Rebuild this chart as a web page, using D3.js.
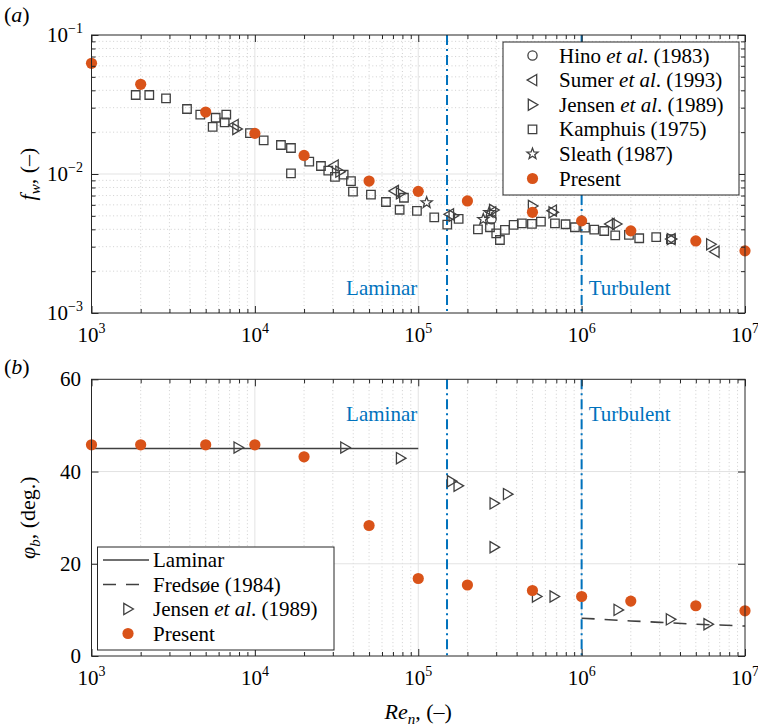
<!DOCTYPE html>
<html><head><meta charset="utf-8">
<script src="https://cdn.jsdelivr.net/npm/d3@7"></script>
<style>body{margin:0;background:#fff} text{font-family:"Liberation Serif","Times New Roman",serif;fill:#000}</style>
</head><body><svg id="c" width="758" height="727"></svg>
<script>
// ---------- data ----------
const presentRe  = [1e3,2e3,5e3,1e4,2e4,5e4,1e5,2e5,5e5,1e6,2e6,5e6,1e7];
const presentFw  = [0.0626,0.0442,0.0279,0.0196,0.0136,0.0089,0.0075,0.0064,0.0053,0.0046,0.0039,0.0033,0.0028];
const presentPhi = [45.8,45.8,45.8,45.8,43.2,28.3,16.8,15.4,14.2,12.9,11.9,10.9,9.8];

const kamphuisRe = [1865,2258,2858,3841,4633,5757,6683,5516,6535,9333,11320,14440,16630,16630,21520,25380,28130,30920,34950,38740,39850,51340,63430,76930,81750,98170,125300,150500,176700,231900,274800,300200,316200,339300,383600,431000,496400,563600,686600,798000,910000,1048000,1195000,1375000,1606000,1948000,2252000,2861000,3520000];
const kamphuisFw = [0.0370,0.0370,0.0350,0.02935,0.0267,0.0254,0.0267,0.0218,0.02355,0.0197,0.01748,0.01617,0.01538,0.01012,0.01226,0.01142,0.01056,0.00952,0.00989,0.0089,0.00746,0.0071,0.00629,0.00553,0.00675,0.00542,0.00488,0.00432,0.00475,0.0040,0.00414,0.00374,0.00335,0.00396,0.0043,0.00442,0.00437,0.00454,0.00442,0.00435,0.00414,0.00411,0.00398,0.00389,0.00362,0.00365,0.00345,0.00352,0.0034];

const sumerRe = [7450,30500,71300,155000,281000,661000,1490000,3520000,6540000];
const sumerFw = [0.0225,0.0115,0.00755,0.00513,0.0053,0.00545,0.00437,0.0034,0.00276];

const jensenRe = [7770,33200,78000,163800,290000,501000,670000,1637000,3550000,6180000];
const jensenFw = [0.0211,0.0104,0.00726,0.00501,0.00551,0.00589,0.0053,0.00437,0.0034,0.00312];

const hinoRe = [281000];
const hinoFw = [0.00472];

const sleathRe = [112600,250000,272000];
const sleathFw = [0.00622,0.00472,0.0053];

const jensenPhiRe = [7910,35600,78000,160100,175700,291900,352500,291900,530400,679800,1675000,3500000,5950000];
const jensenPhi   = [45.2,45.2,42.9,37.9,36.9,33.1,35.1,23.6,12.9,12.9,10.0,7.95,6.9];

const laminarRe  = [1e3,1e5];
const laminarPhi = [45,45];
const fredsoeRe  = [1e6,2e6,3e6,5e6,1e7];
const fredsoePhi = [8.2,7.6,7.3,6.9,6.5];

const regimeRe = [1.5e5,1e6];
const xTickExp = [3,4,5,6,7];
const fwTickExp = [-3,-2,-1];
const phiTicks = [0,20,40,60];

// ---------- setup ----------
const svg = d3.select("#c");
const L = 91.5, R = 745;
const topT = 35, topB = 313, botT = 379.3, botB = 656;
const x = d3.scaleLog().domain([1e3,1e7]).range([L,R]);
const yF = d3.scaleLog().domain([1e-3,1e-1]).range([topB,topT]);
const yP = d3.scaleLinear().domain([0,60]).range([botB,botT]);

const minorX = [];
for (let e=3;e<7;e++) for (let m=2;m<=9;m++) minorX.push(m*Math.pow(10,e));
const majorX = xTickExp.map(e=>Math.pow(10,e));
const minorF = [];
for (let e=-3;e<-1;e++) for (let m=2;m<=9;m++) minorF.push(m*Math.pow(10,e));

const gridMinor = {stroke:"#c4c4c4", w:0.8, dash:"1,2.6"};
const gridMajor = "#e3e3e3";
const markStroke = "#404040";
const orange = "#D95319";
const blue = "#0072BD";

function gridV(g, vals, y0, y1, minor){
  g.selectAll(null).data(vals).enter().append("line")
   .attr("x1",d=>x(d)).attr("x2",d=>x(d)).attr("y1",y0).attr("y2",y1)
   .attr("stroke",minor?gridMinor.stroke:gridMajor).attr("stroke-width",minor?gridMinor.w:1)
   .attr("stroke-dasharray",minor?gridMinor.dash:null);
}
function gridH(g, vals, ys, minor){
  g.selectAll(null).data(vals).enter().append("line")
   .attr("x1",L).attr("x2",R).attr("y1",d=>ys(d)).attr("y2",d=>ys(d))
   .attr("stroke",minor?gridMinor.stroke:gridMajor).attr("stroke-width",minor?gridMinor.w:1)
   .attr("stroke-dasharray",minor?gridMinor.dash:null);
}
function axes(g, ys, yMajor, yMinor, T, B){
  const mk = (gen, tr, vals, size) => g.append("g").attr("transform",tr)
     .call(gen.tickValues(vals).tickSize(size).tickFormat(""))
     .call(s=>{s.select(".domain").remove(); s.selectAll("line").attr("stroke","#262626");});
  mk(d3.axisBottom(x),`translate(0,${B})`,majorX,-7);
  mk(d3.axisBottom(x),`translate(0,${B})`,minorX,-4);
  mk(d3.axisTop(x),`translate(0,${T})`,majorX,-7);
  mk(d3.axisTop(x),`translate(0,${T})`,minorX,-4);
  mk(d3.axisLeft(ys),`translate(${L},0)`,yMajor,-7);
  mk(d3.axisRight(ys),`translate(${R},0)`,yMajor,-7);
  if (yMinor.length){
    mk(d3.axisLeft(ys),`translate(${L},0)`,yMinor,-4);
    mk(d3.axisRight(ys),`translate(${R},0)`,yMinor,-4);
  }
  g.append("rect").attr("x",L).attr("y",T).attr("width",R-L).attr("height",B-T)
   .attr("fill","none").attr("stroke","#262626").attr("stroke-width",1);
}
function xLabels(g, B){
  xTickExp.forEach(e=>{
    const t = g.append("text").attr("x",x(Math.pow(10,e))).attr("y",B+29)
      .attr("text-anchor","middle").attr("font-size",21);
    t.append("tspan").text("10");
    t.append("tspan").attr("font-size",14).attr("dy",-9).text(e);
  });
}
function regimes(g, T, B, ty){
  g.selectAll(null).data(regimeRe).enter().append("line")
   .attr("x1",d=>x(d)).attr("x2",d=>x(d)).attr("y1",T).attr("y2",B)
   .attr("stroke",blue).attr("stroke-width",2).attr("stroke-dasharray","10,4,2,4");
  g.append("text").attr("x",x(1e5)-1).attr("y",ty).attr("text-anchor","end")
   .attr("font-size",21).style("fill",blue).text("Laminar");
  g.append("text").attr("x",x(1e6)+7).attr("y",ty).attr("text-anchor","start")
   .attr("font-size",21).style("fill",blue).text("Turbulent");
}
// marker generators
const sq = s => `M${-s/2},${-s/2}h${s}v${s}h${-s}Z`;
const triR = `M-4.2,-5.6L5.4,0L-4.2,5.6Z`;
const triL = `M4.2,-5.6L-5.4,0L4.2,5.6Z`;
const star = (()=>{let p=[];for(let i=0;i<10;i++){const r=i%2?2.4:5.8;const a=-Math.PI/2+i*Math.PI/5;p.push([r*Math.cos(a),r*Math.sin(a)]);}return "M"+p.map(q=>q[0].toFixed(2)+","+q[1].toFixed(2)).join("L")+"Z";})();

function pathMarks(g, xs, ys, ysc, d){
  g.selectAll(null).data(xs.map((v,i)=>[v,ys[i]])).enter().append("path")
   .attr("d",d).attr("transform",p=>`translate(${x(p[0])},${ysc(p[1])})`)
   .attr("fill","none").attr("stroke",markStroke).attr("stroke-width",1.3);
}
function circMarks(g, xs, ys, ysc, r, filled){
  g.selectAll(null).data(xs.map((v,i)=>[v,ys[i]])).enter().append("circle")
   .attr("cx",p=>x(p[0])).attr("cy",p=>ysc(p[1])).attr("r",r)
   .attr("fill",filled?orange:"none").attr("stroke",filled?"none":markStroke).attr("stroke-width",1.3);
}

// ---------- panel (a) ----------
const ga = svg.append("g");
gridV(ga, minorX, topT, topB, true);
gridH(ga, minorF, yF, true);
gridV(ga, majorX.slice(1,-1), topT, topB, false);
gridH(ga, [1e-2], yF, false);
regimes(ga, topT, topB, 295);
pathMarks(ga, kamphuisRe, kamphuisFw, yF, sq(8.5));
circMarks(ga, hinoRe, hinoFw, yF, 4.6, false);
pathMarks(ga, sumerRe, sumerFw, yF, triL);
pathMarks(ga, jensenRe, jensenFw, yF, triR);
pathMarks(ga, sleathRe, sleathFw, yF, star);
circMarks(ga, presentRe, presentFw, yF, 5.6, true);
axes(ga, yF, [1e-3,1e-2,1e-1], minorF, topT, topB);
xLabels(ga, topB);
fwTickExp.forEach(e=>{
  const t = ga.append("text").attr("x",83).attr("y",yF(Math.pow(10,e))+7)
    .attr("text-anchor","end").attr("font-size",21);
  t.append("tspan").text("10");
  t.append("tspan").attr("font-size",14).attr("dy",-9).text("\u2212"+(-e));
});
// legend (a)
const la = ga.append("g");
la.append("rect").attr("x",503).attr("y",42).attr("width",236).attr("height",153)
  .attr("fill","#fff").attr("stroke","#262626").attr("stroke-width",1);
const legA = [
  {k:"c", parts:[["Hino ",0],["et al",1],[". (1983)",0]]},
  {k:"l", parts:[["Sumer ",0],["et al",1],[". (1993)",0]]},
  {k:"r", parts:[["Jensen ",0],["et al",1],[". (1989)",0]]},
  {k:"s", parts:[["Kamphuis (1975)",0]]},
  {k:"*", parts:[["Sleath (1987)",0]]},
  {k:"p", parts:[["Present",0]]}
];
legA.forEach((d,i)=>{
  const cy = 55.5 + i*24.6, cx = 532.5;
  if (d.k==="c") la.append("circle").attr("cx",cx).attr("cy",cy).attr("r",4.6).attr("fill","none").attr("stroke",markStroke).attr("stroke-width",1.3);
  else if (d.k==="p") la.append("circle").attr("cx",cx).attr("cy",cy).attr("r",5.6).attr("fill",orange);
  else la.append("path").attr("d",d.k==="l"?triL:d.k==="r"?triR:d.k==="s"?sq(8.5):star)
     .attr("transform",`translate(${cx},${cy})`).attr("fill","none").attr("stroke",markStroke).attr("stroke-width",1.3);
  const t = la.append("text").attr("x",559).attr("y",cy+7).attr("font-size",21);
  d.parts.forEach(p=>t.append("tspan").attr("font-style",p[1]?"italic":null).text(p[0]));
});

// ---------- panel (b) ----------
const gb = svg.append("g");
gridV(gb, minorX, botT, botB, true);
gridV(gb, majorX.slice(1,-1), botT, botB, false);
gridH(gb, [20,40], yP, false);
regimes(gb, botT, botB, 421);
const line = d3.line().x(d=>x(d[0])).y(d=>yP(d[1]));
gb.append("path").attr("d",line(laminarRe.map((v,i)=>[v,laminarPhi[i]])))
  .attr("fill","none").attr("stroke","#404040").attr("stroke-width",1.6);
gb.append("path").attr("d",line(fredsoeRe.map((v,i)=>[v,fredsoePhi[i]])))
  .attr("fill","none").attr("stroke","#404040").attr("stroke-width",1.6).attr("stroke-dasharray","13,10");
pathMarks(gb, jensenPhiRe, jensenPhi, yP, triR);
circMarks(gb, presentRe, presentPhi, yP, 5.6, true);
axes(gb, yP, phiTicks, [], botT, botB);
xLabels(gb, botB);
phiTicks.forEach(v=>{
  gb.append("text").attr("x",81).attr("y",yP(v)+7).attr("text-anchor","end").attr("font-size",21).text(v);
});
// legend (b)
const lb = gb.append("g");
lb.append("rect").attr("x",97.5).attr("y",547).attr("width",236.5).attr("height",103)
  .attr("fill","#fff").attr("stroke","#262626").attr("stroke-width",1);
const legB = [
  {k:"line", parts:[["Laminar",0]]},
  {k:"dash", parts:[["Fredsøe (1984)",0]]},
  {k:"r", parts:[["Jensen ",0],["et al",1],[". (1989)",0]]},
  {k:"p", parts:[["Present",0]]}
];
legB.forEach((d,i)=>{
  const cy = 560 + i*24.5, cx = 128;
  if (d.k==="line") lb.append("line").attr("x1",103).attr("x2",149).attr("y1",cy).attr("y2",cy).attr("stroke","#404040").attr("stroke-width",1.6);
  else if (d.k==="dash") lb.append("line").attr("x1",103).attr("x2",149).attr("y1",cy).attr("y2",cy).attr("stroke","#404040").attr("stroke-width",1.6).attr("stroke-dasharray","13,10");
  else if (d.k==="r") lb.append("path").attr("d",triR).attr("transform",`translate(${cx},${cy})`).attr("fill","none").attr("stroke",markStroke).attr("stroke-width",1.3);
  else lb.append("circle").attr("cx",cx).attr("cy",cy).attr("r",5.6).attr("fill",orange);
  const t = lb.append("text").attr("x",153).attr("y",cy+7).attr("font-size",21);
  d.parts.forEach(p=>t.append("tspan").attr("font-style",p[1]?"italic":null).text(p[0]));
});

// ---------- labels ----------
const pa = svg.append("text").attr("x",4).attr("y",22).attr("font-size",22);
pa.append("tspan").text("(");pa.append("tspan").attr("font-style","italic").text("a");pa.append("tspan").text(")");
const pb = svg.append("text").attr("x",4).attr("y",374).attr("font-size",22);
pb.append("tspan").text("(");pb.append("tspan").attr("font-style","italic").text("b");pb.append("tspan").text(")");

const yl1 = svg.append("text").attr("transform",`translate(35,${(topT+topB)/2}) rotate(-90)`).attr("text-anchor","middle").attr("font-size",22);
yl1.append("tspan").attr("font-style","italic").text("f");
yl1.append("tspan").attr("font-style","italic").attr("font-size",15).attr("dy",5).text("w");
yl1.append("tspan").attr("dy",-5).text(", (\u2013)");
const yl2 = svg.append("text").attr("transform",`translate(35,${(botT+botB)/2}) rotate(-90)`).attr("text-anchor","middle").attr("font-size",22);
yl2.append("tspan").attr("font-style","italic").text("\u03c6");
yl2.append("tspan").attr("font-style","italic").attr("font-size",15).attr("dy",5).text("b");
yl2.append("tspan").attr("dy",-5).text(", (deg.)");
const xl = svg.append("text").attr("x",(L+R)/2).attr("y",719).attr("text-anchor","middle").attr("font-size",22);
xl.append("tspan").attr("font-style","italic").text("Re");
xl.append("tspan").attr("font-style","italic").attr("font-size",15).attr("dy",5).text("n");
xl.append("tspan").attr("dy",-5).text(", (\u2013)");
</script></body></html>
